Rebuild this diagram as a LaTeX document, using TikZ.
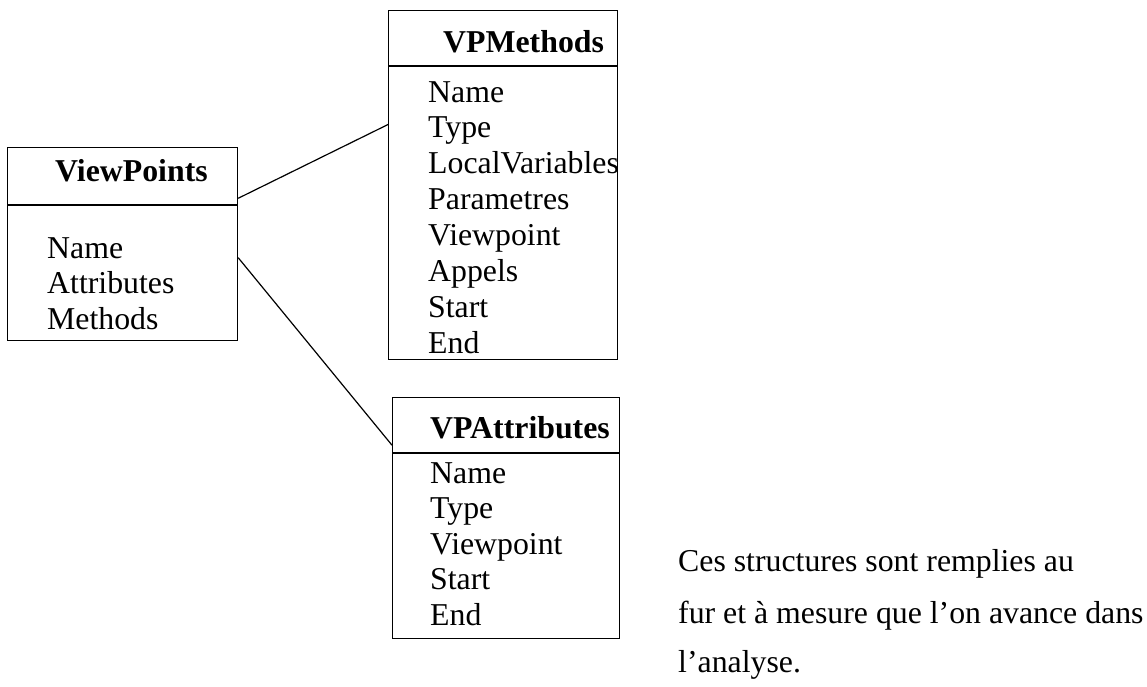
\documentclass[tikz,border=0pt]{standalone}
\usepackage{fontspec}
\setmainfont{Liberation Serif}
\usetikzlibrary{calc}
\begin{document}
\begin{tikzpicture}[x=1pt,y=-1pt,
  box/.style={draw, line width=1.2pt, inner sep=0pt, anchor=north west},
  sep/.style={line width=1.2pt},
  hdr/.style={anchor=base west, font=\fontsize{31.8}{35.8}\selectfont\bfseries, inner sep=0pt},
  item/.style={anchor=base west, font=\fontsize{31.8}{35.8}\selectfont, inner sep=0pt},
  link/.style={line width=1.2pt}]
\useasboundingbox (0,0) rectangle (1147,686);
% boxes
\node[box, minimum width=230pt, minimum height=193pt] (vp) at (7,147) {};
\node[box, minimum width=229pt, minimum height=349pt] (vpm) at (388,10) {};
\node[box, minimum width=227pt, minimum height=241pt] (vpa) at (392,397) {};
% header separators
\draw[sep] ($(vp.north west)+(0,58)$) -- ($(vp.north east)+(0,58)$);
\draw[sep] ($(vpm.north west)+(0,56)$) -- ($(vpm.north east)+(0,56)$);
\draw[sep] ($(vpa.north west)+(0,56)$) -- ($(vpa.north east)+(0,56)$);
% headers
\node[hdr] (vph) at (55,181) {ViewPoints};
\node[hdr] (vpmh) at (443,52) {VPMethods};
\node[hdr] (vpah) at (430,438) {VPAttributes};
% items
\foreach \t [count=\i from 0] in {Name,Attributes,Methods}
  \node[item] (vpi\i) at (47,258+35.5*\i) {\t};
\foreach \t [count=\i from 0] in {Name,Type,LocalVariables,Parametres,Viewpoint,Appels,Start,End}
  \node[item] (vpmi\i) at (428,102+35.9*\i) {\t};
\foreach \t [count=\i from 0] in {Name,Type,Viewpoint,Start,End}
  \node[item] (vpai\i) at (430,483+35.5*\i) {\t};
% connectors
\draw[link] ($(vp.north east)!0.264!(vp.south east)$) -- ($(vpm.north west)!0.327!(vpm.south west)$);
\draw[link] ($(vp.north east)!0.570!(vp.south east)$) -- ($(vpa.north west)!0.199!(vpa.south west)$);
% note
\node[item] (n1) at (678,571) {Ces structures sont remplies au};
\node[item] (n2) at (678,623) {fur et à mesure que l’on avance dans};
\node[item] (n3) at (678,672) {l’analyse.};
\end{tikzpicture}
\end{document}
